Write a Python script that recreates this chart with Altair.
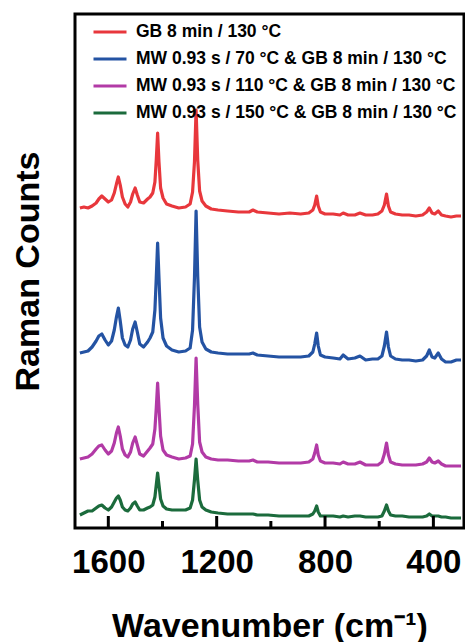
import altair as alt
import pandas as pd

# Wavenumber grid (cm^-1) shared by all four spectra
wavenumber = [1705, 1690, 1675, 1660, 1645, 1635, 1624, 1612, 1600, 1588, 1578, 1570, 1563, 1556,
              1548, 1538, 1528, 1518, 1510, 1501, 1493, 1484, 1470, 1455, 1446, 1436, 1428, 1423,
              1418, 1413, 1407, 1398, 1385, 1365, 1340, 1315, 1298, 1289, 1282, 1276, 1270, 1263,
              1254, 1240, 1220, 1195, 1160, 1120, 1080, 1066, 1050, 1010, 970, 930, 890, 860, 845,
              838, 831, 825, 817, 800, 770, 745, 733, 715, 690, 671, 650, 625, 605, 590, 581, 573,
              566, 558, 540, 515, 490, 465, 440, 425, 415, 405, 395, 382, 370, 355, 335, 315, 298]

# Raman counts (arbitrary units, stacked offsets as in the figure)
red = [320, 321, 320, 322, 325, 329, 332, 329, 326, 328, 335, 344, 351, 343,
       331, 324, 321, 326, 334, 340, 333, 326, 325, 329, 331, 335, 346, 368,
       395, 366, 340, 330, 324, 322, 320, 321, 324, 336, 366, 418, 368, 337,
       327, 322, 319, 318, 317, 316, 316, 318, 316, 315, 314, 315, 314, 315, 318,
       323, 332, 322, 316, 314, 314, 313, 315, 313, 313, 315, 313, 313, 314, 317, 323, 334,
       322, 316, 314, 313, 313, 312, 313, 316, 320, 315, 314, 317, 313, 312, 311, 312, 312]

blue = [175, 176, 177, 181, 187, 192, 194, 188, 183, 187, 198, 211, 220, 207,
        190, 183, 181, 188, 199, 206, 196, 184, 181, 186, 190, 196, 218, 250,
        285, 250, 210, 190, 182, 178, 176, 177, 180, 198, 250, 317, 252, 201,
        186, 179, 176, 175, 174, 174, 174, 175, 173, 172, 171, 171, 171, 172, 176,
        184, 195, 182, 173, 171, 170, 169, 173, 169, 170, 172, 168, 169, 169, 172, 182, 196,
        181, 172, 169, 168, 168, 167, 168, 172, 178, 171, 170, 175, 169, 166, 166, 168, 168]

magenta = [69, 70, 71, 74, 79, 82, 83, 78, 74, 77, 85, 95, 101, 92,
           79, 73, 71, 76, 85, 91, 83, 74, 72, 77, 80, 84, 99, 120,
           145, 120, 92, 78, 73, 71, 69, 70, 72, 84, 122, 170, 124, 86,
           76, 71, 69, 68, 68, 67, 67, 68, 66, 66, 65, 65, 65, 66, 69,
           75, 83, 73, 67, 65, 65, 64, 66, 64, 64, 66, 63, 63, 63, 66, 74, 85,
           73, 66, 64, 63, 63, 63, 64, 66, 70, 66, 65, 67, 64, 62, 62, 62, 62]

green = [13, 15, 17, 17, 20, 22, 23, 20, 18, 21, 26, 30, 32, 28,
         21, 18, 17, 20, 24, 26, 22, 18, 18, 20, 21, 23, 31, 43,
         55, 43, 29, 22, 19, 18, 18, 18, 20, 28, 48, 69, 48, 28,
         21, 18, 16, 15, 14, 14, 14, 14, 13, 13, 12, 12, 12, 12, 14,
         17, 22, 16, 12, 12, 12, 11, 12, 11, 12, 12, 11, 11, 11, 12, 17, 23,
         17, 13, 12, 12, 11, 11, 11, 12, 14, 12, 12, 12, 11, 11, 10, 10, 10]

series_names = ["GB 8 min / 130 °C",
                "MW 0.93 s / 70 °C & GB 8 min / 130 °C",
                "MW 0.93 s / 110 °C & GB 8 min / 130 °C",
                "MW 0.93 s / 150 °C & GB 8 min / 130 °C"]
series_colors = ["#e8373c", "#2453a3", "#b23aa6", "#1b6b3c"]

major_ticks = [1600, 1200, 800, 400]
minor_ticks = [1400, 1000, 600]

rows = []
for name, vals in zip(series_names, [red, blue, magenta, green]):
    for w, v in zip(wavenumber, vals):
        rows.append({"series": name, "wavenumber": w, "counts": v})
df = pd.DataFrame(rows)

FONT = "Liberation Sans"
W, H = 389, 514

xscale = alt.Scale(domain=[1723, 287], nice=False, zero=False)
yscale = alt.Scale(domain=[0, 514], nice=False, zero=False)

lines = alt.Chart(df).mark_line(strokeWidth=3.2, strokeJoin="round").encode(
    x=alt.X("wavenumber:Q", scale=xscale,
            axis=alt.Axis(values=major_ticks, format="d", title="Wavenumber (cm⁻¹)",
                          domain=False, ticks=False, tickSize=0,
                          grid=False, labelFont=FONT, labelFontSize=33, labelFontWeight="bold",
                          labelColor="black", labelPadding=18, labelFlush=False,
                          titleFont=FONT, titleFontSize=34, titleFontWeight="bold",
                          titleColor="black", titlePadding=30)),
    y=alt.Y("counts:Q", scale=yscale,
            axis=alt.Axis(labels=False, ticks=False, domain=False, grid=False,
                          title="Raman Counts", titleFont=FONT, titleFontSize=34,
                          titleFontWeight="bold", titleColor="black", titlePadding=30)),
    color=alt.Color("series:N", scale=alt.Scale(domain=series_names, range=series_colors),
                    legend=alt.Legend(title=None, orient="none", legendX=17, legendY=0,
                                      symbolType="stroke", symbolSize=1089, symbolStrokeWidth=3,
                                      labelFont=FONT, labelFontSize=17.5, labelFontWeight="bold",
                                      labelColor="black", labelLimit=0, labelOffset=8,
                                      rowPadding=-5.25, padding=0)),
    detail="series:N",
)

major = alt.Chart(pd.DataFrame({"w": major_ticks})).mark_rule(color="black", strokeWidth=3).encode(
    x=alt.X("w:Q", scale=xscale), y=alt.value(H), y2=alt.value(H - 12))
minor = alt.Chart(pd.DataFrame({"w": minor_ticks})).mark_rule(color="black", strokeWidth=3).encode(
    x=alt.X("w:Q", scale=xscale), y=alt.value(H), y2=alt.value(H - 7))

chart = alt.layer(lines, major, minor).properties(
    width=W, height=H,
    autosize=alt.AutoSizeParams(type="none"),
    padding={"left": 75, "top": 14, "right": 1, "bottom": 114},
    background="white",
).configure_view(stroke="black", strokeWidth=3)

chart.save("out.html", embed_options={"renderer": "svg", "actions": False})
